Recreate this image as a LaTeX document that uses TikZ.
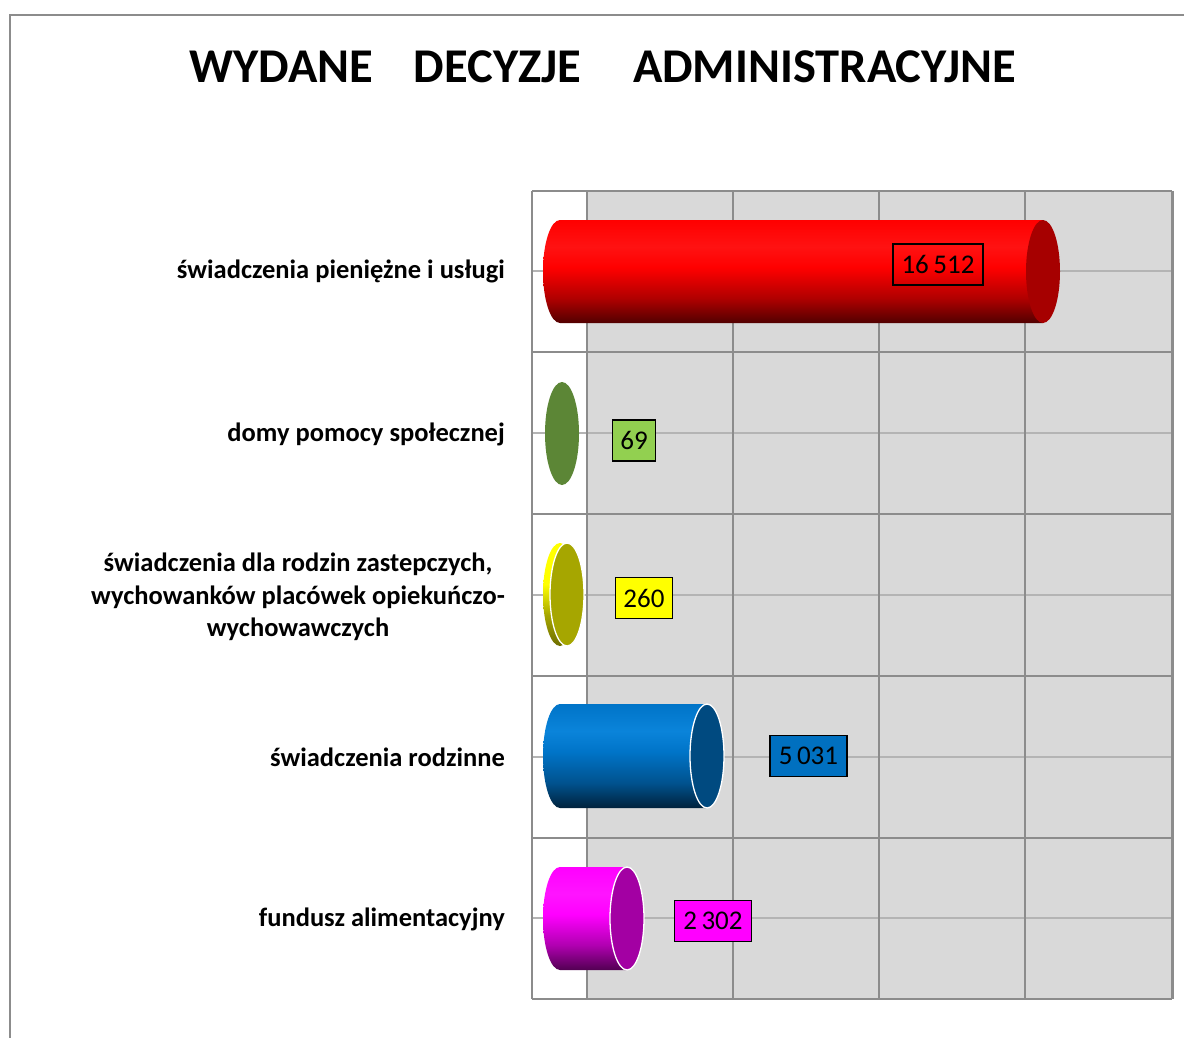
\documentclass[tikz,border=0pt]{standalone}
\usepackage{fontspec}
\setmainfont{Carlito}
\definecolor{framegray}{HTML}{8C8C8C}
\definecolor{plotgray}{HTML}{D9D9D9}
\definecolor{gridc}{HTML}{8C8C8C}
\definecolor{midgridc}{HTML}{B4B4B4}
% red
\definecolor{redbase}{HTML}{FF0000}
\definecolor{redlt}{HTML}{FF1212}
\definecolor{redmd}{HTML}{B00000}
\definecolor{reddk}{HTML}{520000}
\definecolor{redcap}{HTML}{A60000}
% blue
\definecolor{bluebase}{HTML}{0074C8}
\definecolor{bluelt}{HTML}{0A84DA}
\definecolor{bluemd}{HTML}{00528E}
\definecolor{bluedk}{HTML}{00223C}
\definecolor{bluecap}{HTML}{004A80}
\definecolor{bluebox}{HTML}{0070C0}
% magenta
\definecolor{magbase}{HTML}{FF00FF}
\definecolor{maglt}{HTML}{FF14FF}
\definecolor{magmd}{HTML}{B000B0}
\definecolor{magdk}{HTML}{520052}
\definecolor{magcap}{HTML}{A300A3}
% green / yellow
\definecolor{greenc}{HTML}{5C8636}
\definecolor{greenbox}{HTML}{92D050}
\definecolor{yolive}{HTML}{A6A600}
\definecolor{ybright}{HTML}{FFFF00}
\definecolor{ydark}{HTML}{6E6E00}
\pgfdeclareverticalshading{redbar}{100bp}{color(0bp)=(reddk); color(25bp)=(reddk); color(37bp)=(redmd); color(52bp)=(redbase); color(62bp)=(redlt); color(75bp)=(redbase); color(100bp)=(redbase)}
\pgfdeclareverticalshading{bluebar}{100bp}{color(0bp)=(bluedk); color(25bp)=(bluedk); color(37bp)=(bluemd); color(52bp)=(bluebase); color(62bp)=(bluelt); color(75bp)=(bluebase); color(100bp)=(bluebase)}
\pgfdeclareverticalshading{magbar}{100bp}{color(0bp)=(magdk); color(25bp)=(magdk); color(37bp)=(magmd); color(52bp)=(magbase); color(62bp)=(maglt); color(75bp)=(magbase); color(100bp)=(magbase)}
\pgfdeclareverticalshading{yelbar}{100bp}{color(0bp)=(ydark); color(25bp)=(ydark); color(40bp)=(yolive); color(55bp)=(ybright); color(100bp)=(ybright)}
\tikzset{
  grid/.style={draw=gridc, line width=2pt},
  midgrid/.style={draw=midgridc, line width=2pt},
  catlabel/.style={font=\fontsize{26.5}{32.5}\selectfont\bfseries, anchor=east, inner sep=0pt, align=center},
  vallabel/.style={draw=black, line width=1.6pt, font=\fontsize{27}{30}\selectfont, minimum height=41pt, inner sep=2pt},
  capline/.style={draw=white, line width=1.3pt},
}
\begin{document}
\begin{tikzpicture}[x=1pt,y=-1pt]
\useasboundingbox (0,0) rectangle (1184,1038);
\fill[white] (0,0) rectangle (1184,1038);
\draw[framegray, line width=2pt] (10,1038) -- (10,15) -- (1184,15);

\node[font=\fontsize{48.5}{58}\selectfont\bfseries, inner sep=0pt] (title) at (602.5,67)
  {WYDANE\hspace{41pt}DECYZJE\hspace{52pt}ADMINISTRACYJNE};

% plot area
\fill[white] (532,191) rectangle (1172,999);
\fill[plotgray] (587,191) rectangle (1172,999);
\foreach \y in {271,433,595,757,918} \draw[midgrid] (532,\y) -- (1172,\y);
\foreach \y in {191,352,514,676,838,999} \draw[grid] (532,\y) -- (1172,\y);
\foreach \x in {532,587,733,879,1025} \draw[grid] (\x,191) -- (\x,999);
\draw[gridc, line width=3pt] (1172,191) -- (1172,999);

% category labels
\node[catlabel] (c1) at (505,271) {świadczenia pieniężne i usługi};
\node[catlabel] (c2) at (505,434) {domy pomocy społecznej};
\node[catlabel] (c3) at (505,597) {świadczenia dla rodzin zastepczych,\\wychowanków placówek opiekuńczo-\\wychowawczych};
\node[catlabel] (c4) at (505,757) {świadczenia rodzinne};
\node[catlabel] (c5) at (505,919) {fundusz alimentacyjny};

% red cylinder
\shade[shading=redbar] (560,220) rectangle (1043,323) (560,271.5) ellipse [x radius=17pt, y radius=51.5pt];
\fill[redcap] (1043,271.5) ellipse [x radius=17pt, y radius=51.5pt];

% green disk
\fill[greenc] (562,433.5) ellipse [x radius=17pt, y radius=51.5pt];

% yellow disk
\shade[shading=yelbar] (560,594.5) ellipse [x radius=17pt, y radius=51.5pt];
\filldraw[fill=yolive, capline] (567,594.5) ellipse [x radius=17pt, y radius=51.5pt];

% blue cylinder
\shade[shading=bluebar] (560,704) rectangle (707,808) (560,756) ellipse [x radius=17pt, y radius=52pt];
\filldraw[fill=bluecap, capline] (707,756) ellipse [x radius=17pt, y radius=52pt];

% magenta cylinder
\shade[shading=magbar] (560,867) rectangle (627,970) (560,918.5) ellipse [x radius=17pt, y radius=51.5pt];
\filldraw[fill=magcap, capline] (627,918.5) ellipse [x radius=17pt, y radius=51.5pt];

% value labels
\node[vallabel, minimum width=90pt] (v1) at (938,264.5) {16\,512};
\node[vallabel, fill=greenbox, minimum width=43pt] (v2) at (634,440.5) {69};
\node[vallabel, fill=ybright, minimum width=57pt] (v3) at (644,598) {260};
\node[vallabel, fill=bluebox, minimum width=77pt] (v4) at (808.5,756) {5\,031};
\node[vallabel, fill=magbase, minimum width=77pt] (v5) at (713,921) {2\,302};
\end{tikzpicture}
\end{document}
